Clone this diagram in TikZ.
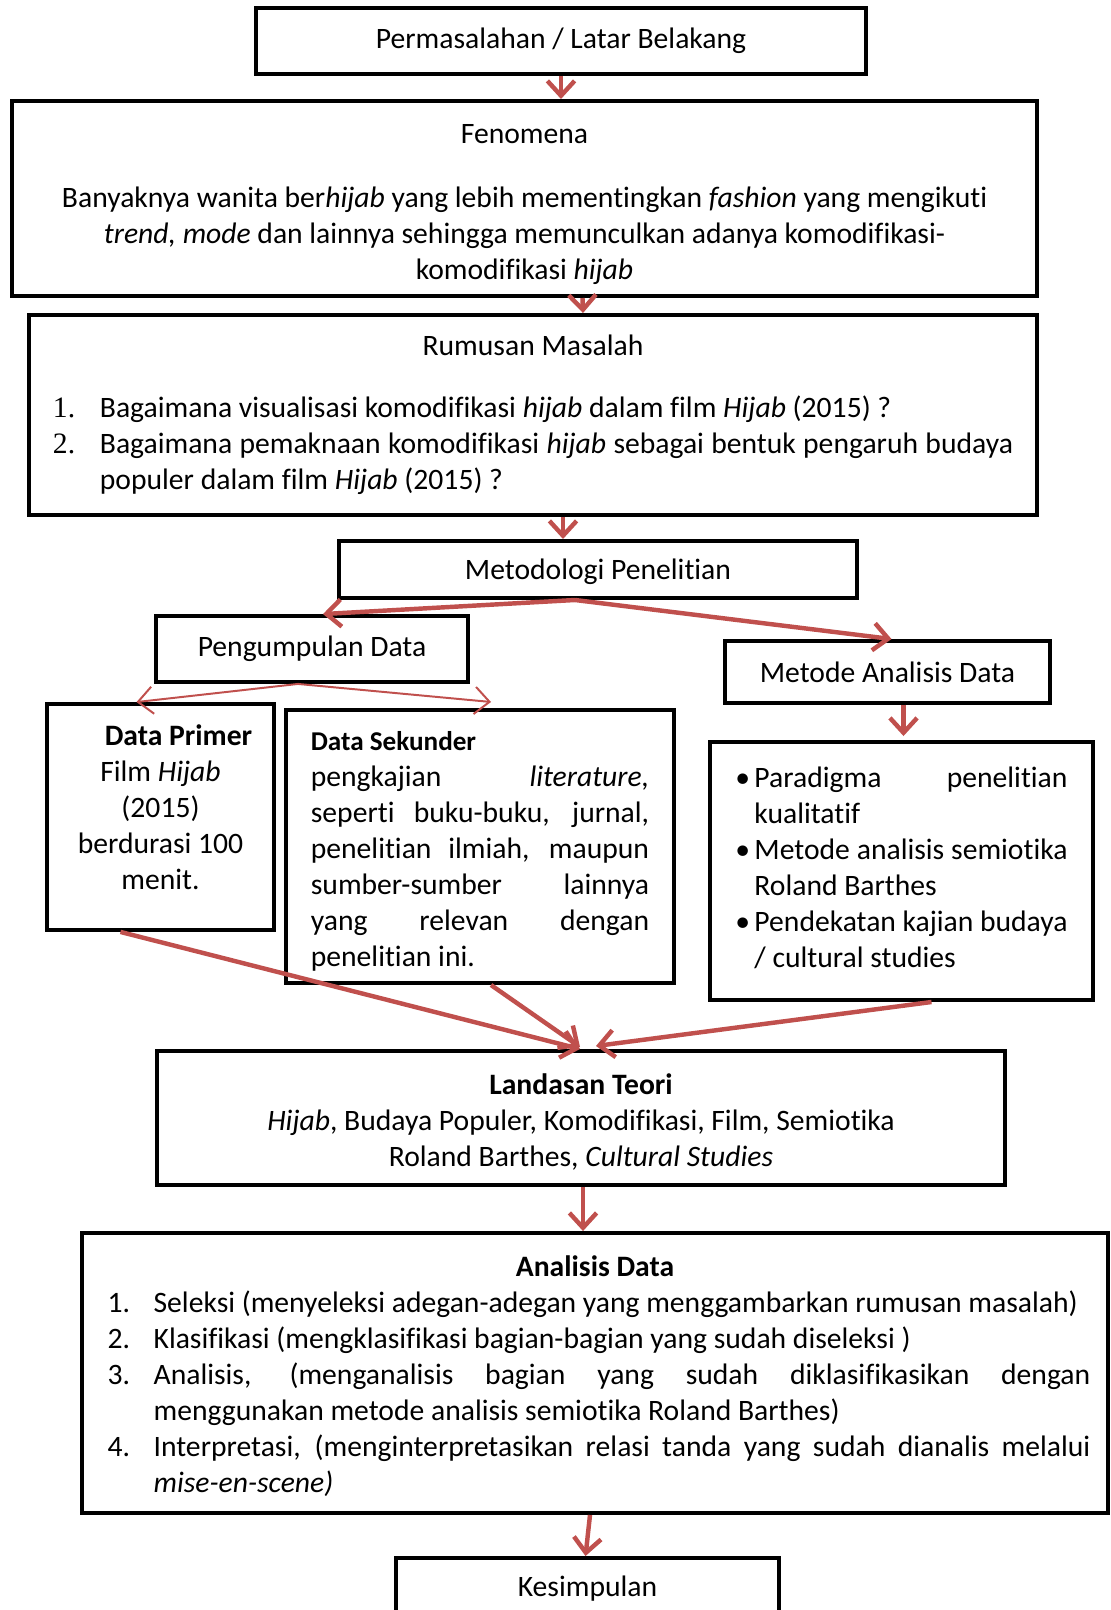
\documentclass[tikz,border=0pt]{standalone}
\usepackage{fontspec}
\setmainfont{Carlito}[Ligatures=NoCommon]
\newfontfamily\numfont{Liberation Serif}
\usepackage{xcolor}
\usepackage{tikz}
\usetikzlibrary{arrows.meta,calc}

\definecolor{linkred}{HTML}{C0504D}
\newcommand{\numitem}[3]{\par\noindent\hangindent=#1\hangafter=1\makebox[#1][l]{#2}#3\par}
\hyphenpenalty=10000 \exhyphenpenalty=10000 \hbadness=10000

\begin{document}
\begin{tikzpicture}[->,>={Straight Barb[length=6pt,width=11pt]},x=0.405pt,y=-0.405pt]
          \tikzstyle{box}=[draw=black,line width=1.6pt,fill=white,inner sep=0pt,text=black,font=\fontsize{12}{14.6}\selectfont]
          \tikzstyle{link}=[draw=linkred,line width=1.8pt]
          \tikzstyle{thinlink}=[draw=linkred,line width=0.8pt]
          \useasboundingbox (0,0) rectangle (1111,1610);
          \node[box,minimum width=247.1pt,minimum height=26.7pt] (Perm) at (561,41) {Permasalahan / Latar Belakang};
          \node[box,minimum width=415.1pt,minimum height=79pt,align=center] (Fen) at (524.5,198.5)
            {\rule{0pt}{12.5pt}Fenomena\\[11.3pt]
             Banyaknya wanita ber\emph{hijab} yang lebih mementingkan \emph{fashion} yang mengikuti\\
             \emph{trend, mode} dan lainnya sehingga memunculkan adanya komodifikasi-\\
             komodifikasi \emph{hijab}};
          \node[box,minimum width=408.2pt,minimum height=81pt,text width=388.8pt,align=justify] (Rum) at (533,415)
            {{\noindent\centering Rumusan Masalah\par}\vspace{10.5pt}
             \numitem{19pt}{\numfont 1.}{Bagaimana visualisasi komodifikasi \emph{hijab} dalam film \emph{Hijab} (2015) ?}
             \numitem{19pt}{\numfont 2.}{Bagaimana pemaknaan komodifikasi \emph{hijab} sebagai bentuk pengaruh budaya\linebreak populer dalam film \emph{Hijab} (2015) ?}};
          \node[box,minimum width=209.8pt,minimum height=23.1pt,text depth=0pt] (Met) at (598,569.5) {Metodologi Penelitian};
          \node[box,minimum width=126.4pt,minimum height=26.7pt] (Kump) at (312,649) {Pengumpulan Data};
          \node[box,minimum width=131.6pt,minimum height=25.1pt] (MAD) at (887.5,672) {Metode Analisis Data};
          \node[box,minimum width=91.9pt,minimum height=91.5pt,align=center] (Prim) at (160.5,817)
            {\hspace*{14.6pt}\textbf{Data Primer}\\ Film \emph{Hijab}\\ (2015)\\ berdurasi 100\\ menit.\rule[-8pt]{0pt}{8pt}};
          \node[box,minimum width=157.1pt,minimum height=110.6pt,text width=137pt,align=justify] (Sek) at (480,846.5)
            {{\noindent\fontsize{11}{14.6}\selectfont\bfseries\rule{0pt}{11.8pt}Data Sekunder\par}
             \noindent pengkajian \emph{literature,}\linebreak seperti buku-buku, jurnal,\linebreak penelitian ilmiah, maupun\linebreak
             sumber-sumber lainnya\linebreak yang relevan dengan\linebreak penelitian ini.};
          \node[box,minimum width=155.1pt,minimum height=104.5pt,text width=134.5pt,align=justify] (Para) at (901.5,871)
            {\numitem{7.7pt}{\textbullet}{Paradigma penelitian\linebreak kualitatif}
             \numitem{7.7pt}{\textbullet}{Metode analisis semiotika\linebreak Roland Barthes}
             \numitem{7.7pt}{\textbullet}{Pendekatan kajian budaya\linebreak / cultural studies\rule[-9.2pt]{0pt}{9.2pt}}};
          \node[box,minimum width=343.4pt,minimum height=54.3pt,align=center] (Teori) at (581,1118)
            {\rule{0pt}{12pt}\textbf{Landasan Teori}\\ \emph{Hijab}, Budaya Populer, Komodifikasi, Film, Semiotika\\ Roland Barthes, \emph{Cultural Studies}};
          \node[box,minimum width=415.5pt,minimum height=113.4pt,text width=401.3pt,align=justify] (Anal) at (595,1373)
            {\leftskip=3.3pt
             {\noindent\centering\rule{0pt}{11pt}\textbf{Analisis Data}\par}
             \numitem{18.6pt}{1.}{Seleksi (menyeleksi adegan-adegan yang menggambarkan rumusan masalah)}
             \numitem{18.6pt}{2.}{Klasifikasi (mengklasifikasi bagian-bagian yang sudah diseleksi )}
             \numitem{18.6pt}{3.}{Analisis, (menganalisis bagian yang sudah diklasifikasikan dengan\linebreak menggunakan metode analisis semiotika Roland Barthes)}
             \numitem{18.6pt}{4.}{Interpretasi, (menginterpretasikan relasi tanda yang sudah dianalis melalui\linebreak \emph{mise-en-scene)}}};
          \node[box,minimum width=155.1pt,minimum height=25.1pt,anchor=north] (Simp) at (587.5,1556) {Kesimpulan};
          \path
          (Perm.south) edge[link] (Perm.south |- Fen.north)
          ($(Fen.south)+(58,0)$) edge[link] ($(Rum.north)+(50,0)$)
          ($(Rum.south)+(30,0)$) edge[link] ($(Met.north)+(-35,0)$)
          ($(Met.south)+(-23,0)$) edge[link] ($(Kump.north)+(11,0)$)
          ($(Met.south)+(-23,0)$) edge[link] ($(MAD.north)+(4,0)$)
          ($(Kump.south)+(-14,0)$) edge[thinlink] ($(Prim.north)+(-24,0)$)
          ($(Kump.south)+(-14,0)$) edge[thinlink] ($(Sek.north)+(11,-6)$)
          ($(MAD.south)+(16,0)$) edge[link] ($(Para.north)+(2,-4)$)
          ($(Prim.south)+(-40,0)$) edge[link] ($(Teori.north)+(-1,0)$)
          ($(Sek.south)+(11,0)$) edge[link] ($(Teori.north)+(-1,-2)$)
          ($(Para.south)+(30,0)$) edge[link] ($(Teori.north)+(15,-3)$)
          ($(Teori.south)+(2,0)$) edge[link] ($(Anal.north)+(-12,0)$)
          ($(Anal.south)+(-5,0)$) edge[link] ($(Simp.north)+(-2,0)$);
        \end{tikzpicture}
\end{document}
